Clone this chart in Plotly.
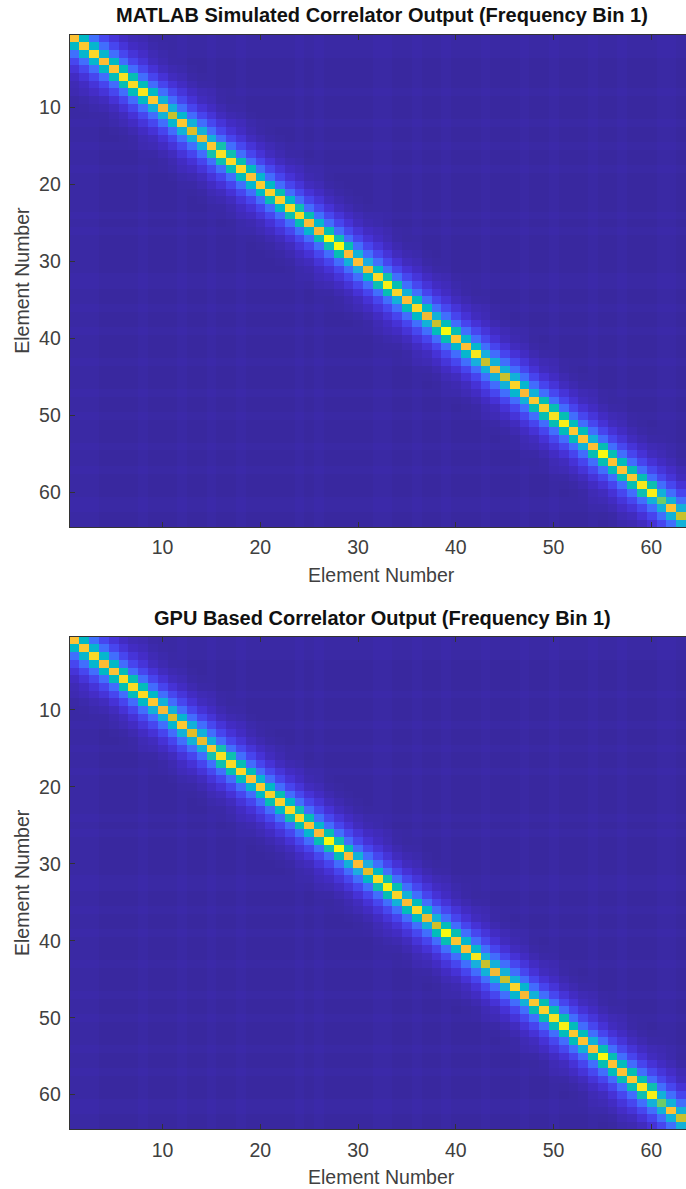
import plotly.graph_objects as go

# Diagonal values, elements 1..64
diag_matlab = [.85,.87,.92,.83,.85,.95,.93,.96,.87,.80,.70,.87,.72,.75,.87,.95,
               .93,.92,.85,.88,.90,.90,.93,.93,.83,.80,1.0,1.0,.82,.84,.76,.93,
               .98,.91,.83,.92,.77,.70,1.0,.86,.84,.96,.70,.77,.70,.91,
               .81,.87,.90,.95,.98,.87,.85,.84,1.0,.85,.85,.87,.96,.98,.60,.85,.70,.85]
diag_gpu = [.85,.87,.92,.83,.85,.93,.93,.93,.87,.79,.72,.87,.73,.75,.87,.95,
            .93,.92,.85,.88,.90,.90,.93,.93,.85,.81,1.0,1.0,.83,.83,.74,.93,
            .98,.91,.83,.92,.76,.71,1.0,.86,.84,.96,.70,.77,.70,.91,
            .80,.87,.90,.95,.98,.87,.85,.84,1.0,.85,.85,.87,.96,.98,.60,.85,.70,.85]

# First off-diagonal, pairs (1,2)..(63,64)
band1 = [.42,.40,.40,.42,.44,.46,.44,.42,.38,.38,.40,.38,.38,.38,.48,.47,
         .46,.44,.40,.42,.46,.42,.47,.46,.40,.46,.47,.46,.38,.36,.42,.47,
         .46,.38,.44,.42,.38,.44,.46,.40,.40,.37,.38,.38,.38,.40,.38,.46,
         .46,.46,.44,.44,.38,.46,.46,.44,.46,.46,.47,.38,.38,.38,.38]

# Average level of the farther off-diagonals (offset 2, 3, 4, ...)
band_levels = [.19, .10, .055, .03, .018, .01, .005]

# Faint background level of each row/column
background_levels = [.004,.004,.004,.00,.00,.00,.00,.004,.00,.00,.00,.004,.00,.00,.004,.00,
                     .00,.004,.00,.00,.00,.00,.00,.004,.00,.004,.00,.00,.00,.00,.00,.004,
                     .004,.00,.00,.004,.00,.00,.004,.00,.00,.00,.004,.00,.00,.00,.004,.00,
                     .00,.004,.00,.00,.00,.004,.00,.00,.004,.00,.00,.00,.004,.004,.00,.00]

elements = list(range(1, 65))
tick_values = [10, 20, 30, 40, 50, 60]
title_top = "MATLAB Simulated Correlator Output (Frequency Bin 1)"
title_bottom = "GPU Based Correlator Output (Frequency Bin 1)"
axis_label = "Element Number"

# MATLAB parula, sampled
parula_rgb = [(56,40,156),(70,46,208),(71,65,235),(71,82,249),(70,105,253),(50,124,252),
              (46,140,243),(36,160,230),(28,173,224),(1,184,202),(2,190,180),(36,193,168),
              (55,200,150),(100,204,112),(143,203,78),(184,196,49),(224,189,39),(240,186,54),
              (254,185,56),(252,198,50),(250,212,42),(248,228,32),(248,250,15)]
n_stops = len(parula_rgb) - 1
colorscale = [[i / n_stops, f"rgb{c}"] for i, c in enumerate(parula_rgb)]


def build_matrix(diag):
    rows = []
    for r in range(64):
        row = []
        for c in range(64):
            off = abs(r - c)
            if off == 0:
                v = diag[r]
            elif off == 1:
                v = band1[min(r, c)]
            elif off - 2 < len(band_levels):
                v = band_levels[off - 2] + background_levels[r] + background_levels[c]
            else:
                v = .003 + background_levels[r] + background_levels[c]
            row.append(v)
        rows.append(row)
    return rows


W, H = 686, 1189
TEXT = "#404040"
AXIS = "#333333"
FONT = "Liberation Sans, Arial, sans-serif"

fig = go.Figure()
panels = [
    dict(diag=diag_matlab, x="x", y="y", ax="xaxis", ay="yaxis", top=34.5, bottom=527.0, title=title_top, ty=15, xl=575),
    dict(diag=diag_gpu, x="x2", y="y2", ax="xaxis2", ay="yaxis2", top=636.7, bottom=1129.3, title=title_bottom, ty=618, xl=1177),
]
LEFT = 69.7
annotations = []
axes = {}
for p in panels:
    fig.add_trace(go.Heatmap(x=elements, y=elements, z=build_matrix(p["diag"]), xaxis=p["x"], yaxis=p["y"],
                             colorscale=colorscale, zmin=0, zmax=1, showscale=False, hoverongaps=False))
    axes[p["ax"]] = dict(domain=[LEFT / W, 1], range=[0.5, 63.55], anchor=p["y"], tickvals=tick_values,
                         ticks="inside", ticklen=5, tickwidth=1, tickcolor=AXIS, showline=True, linecolor=AXIS,
                         linewidth=1, mirror="ticks", showgrid=False, zeroline=False, ticklabelstandoff=3,
                         tickfont=dict(size=19.5, color=TEXT, family=FONT))
    axes[p["ay"]] = dict(domain=[1 - p["bottom"] / H, 1 - p["top"] / H], range=[64.5, 0.5], anchor=p["x"],
                         tickvals=tick_values, ticks="inside", ticklen=5, tickwidth=1, tickcolor=AXIS,
                         showline=True, linecolor=AXIS, linewidth=1, showgrid=False, zeroline=False,
                         ticklabelstandoff=4, tickfont=dict(size=19.5, color=TEXT, family=FONT))
    annotations.append(dict(text=f"<b>{p['title']}</b>", x=382 / W, y=1 - p["ty"] / H, xref="paper", yref="paper",
                            showarrow=False, xanchor="center", yanchor="middle",
                            font=dict(size=20, color="#111111", family=FONT)))
    annotations.append(dict(text=axis_label, x=381 / W, y=1 - p["xl"] / H, xref="paper", yref="paper",
                            showarrow=False, xanchor="center", yanchor="middle",
                            font=dict(size=19.5, color=TEXT, family=FONT)))
    annotations.append(dict(text=axis_label, x=22 / W, y=1 - (p["top"] + p["bottom"]) / 2 / H, xref="paper", yref="paper",
                            showarrow=False, xanchor="center", yanchor="middle", textangle=-90,
                            font=dict(size=19.5, color=TEXT, family=FONT)))

fig.update_layout(width=W, height=H, margin=dict(l=0, r=0, t=0, b=0), paper_bgcolor="white", plot_bgcolor="white",
                  showlegend=False, annotations=annotations, **axes)
fig.write_html("out.html", config={"displayModeBar": False},
               post_script="document.body.style.margin='0';document.documentElement.style.overflow='hidden';")
